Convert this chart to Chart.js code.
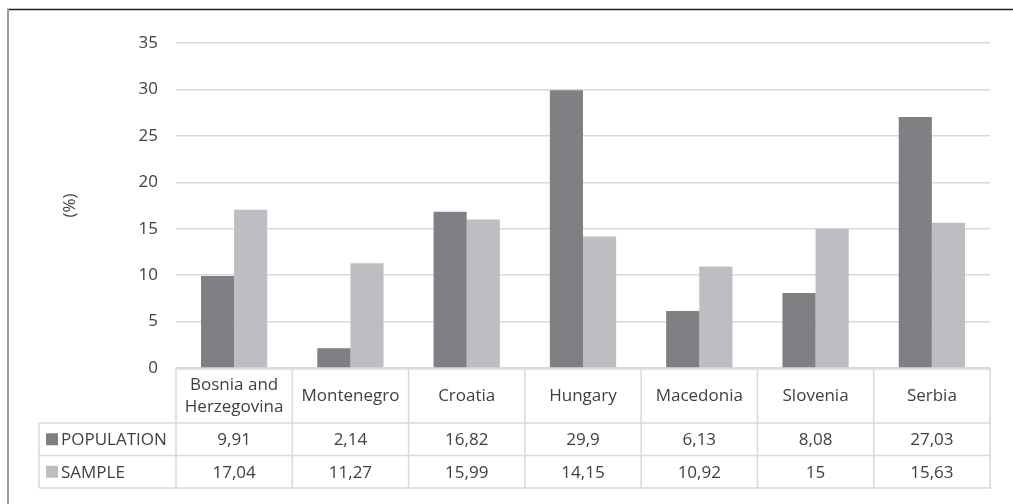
<!DOCTYPE html>
<html>
<head>
<meta charset="utf-8">
<script src="https://cdn.jsdelivr.net/npm/chart.js@4"></script>
<style>
  html, body { margin: 0; padding: 0; background: #ffffff; }
  canvas { display: block; }
</style>
</head>
<body>
<canvas id="chart" width="1013" height="504"></canvas>
<script>
// Share of each country in the population and in the sample (%)
const countries = [['Bosnia and', 'Herzegovina'], 'Montenegro', 'Croatia', 'Hungary', 'Macedonia', 'Slovenia', 'Serbia'];
const population = [9.91, 2.14, 16.82, 29.9, 6.13, 8.08, 27.03];
const sample = [17.04, 11.27, 15.99, 14.15, 10.92, 15, 15.63];
const seriesNames = ['POPULATION', 'SAMPLE'];
const yMin = 0, yMax = 35, yStep = 5;
const axisTitle = '(%)';

const FONT = '"Open Sans", "DejaVu Sans", sans-serif';
const FONT_SIZE = 17;
const TEXT = '#404040';
const GRID = '#d9d9d9';
const COLORS = ['#7f8084', '#bdbec2'];

const fmt = v => String(v).replace('.', ',');

// Data table under the plot: category header row plus one row per series
const dataTable = {
  id: 'dataTable',
  afterDraw(chart) {
    const ctx = chart.ctx;
    const area = chart.chartArea;
    const x = chart.scales.x;
    const n = countries.length;
    const colW = (area.right - area.left) / n;
    const top = area.bottom + 1;
    const headH = 54, rowH = 32.5;
    const labelLeft = 39;
    const rows = [top, top + headH, top + headH + rowH, top + headH + 2 * rowH];

    ctx.save();
    // frame of the figure
    ctx.strokeStyle = '#1e1e1e';
    ctx.lineWidth = 1.5;
    ctx.beginPath(); ctx.moveTo(7, 9.5); ctx.lineTo(1013, 9.5); ctx.stroke();
    ctx.strokeStyle = '#9a9a9a';
    ctx.lineWidth = 2;
    ctx.beginPath(); ctx.moveTo(8, 9); ctx.lineTo(8, 504); ctx.stroke();

    // table grid
    ctx.strokeStyle = GRID;
    ctx.lineWidth = 1.5;
    ctx.beginPath();
    ctx.moveTo(area.left, rows[0]); ctx.lineTo(area.right + 1, rows[0]);
    for (let r = 1; r < rows.length; r++) {
      ctx.moveTo(labelLeft, rows[r]); ctx.lineTo(area.right + 1, rows[r]);
    }
    for (let i = 0; i <= n; i++) {
      const cx = area.left + i * colW;
      ctx.moveTo(cx, rows[0]); ctx.lineTo(cx, rows[3]);
    }
    ctx.moveTo(labelLeft, rows[1]); ctx.lineTo(labelLeft, rows[3]);
    ctx.stroke();

    // header labels
    ctx.fillStyle = TEXT;
    ctx.font = FONT_SIZE + 'px ' + FONT;
    ctx.textAlign = 'center';
    ctx.textBaseline = 'middle';
    countries.forEach((c, i) => {
      const cx = x.getPixelForValue(i);
      const lines = Array.isArray(c) ? c : [c];
      const mid = rows[0] + headH / 2;
      lines.forEach((t, k) => {
        ctx.fillText(t, cx, mid + (k - (lines.length - 1) / 2) * 22);
      });
    });

    // series rows
    [population, sample].forEach((vals, r) => {
      const cy = rows[r + 1] + rowH / 2;
      ctx.fillStyle = COLORS[r];
      ctx.fillRect(46, cy - 6, 12, 12);
      ctx.fillStyle = TEXT;
      ctx.textAlign = 'left';
      ctx.fillText(seriesNames[r], 61, cy + 1);
      ctx.textAlign = 'center';
      vals.forEach((v, i) => ctx.fillText(fmt(v), x.getPixelForValue(i), cy + 1));
    });
    ctx.restore();
  }
};

new Chart(document.getElementById('chart'), {
  type: 'bar',
  data: {
    labels: countries,
    datasets: [
      { label: seriesNames[0], data: population, backgroundColor: COLORS[0] },
      { label: seriesNames[1], data: sample, backgroundColor: COLORS[1] }
    ]
  },
  options: {
    responsive: false,
    animation: false,
    devicePixelRatio: 1,
    layout: { padding: { left: 40, top: 43, right: 23, bottom: 0 } },
    datasets: { bar: { categoryPercentage: 0.57, barPercentage: 1.0 } },
    plugins: { legend: { display: false }, tooltip: { enabled: false } },
    scales: {
      x: {
        grid: { display: false },
        border: { display: false },
        ticks: { display: false },
        afterFit(scale) { scale.height = 136; }
      },
      y: {
        min: yMin, max: yMax,
        ticks: { stepSize: yStep, color: TEXT, font: { family: FONT, size: FONT_SIZE }, padding: 18 },
        grid: { color: GRID, lineWidth: 1.5, drawTicks: false },
        border: { display: false },
        title: { display: true, text: axisTitle, color: TEXT, font: { family: FONT, size: FONT_SIZE }, padding: { top: 20, bottom: 0 } },
        afterFit(scale) { scale.width = 136; }
      }
    }
  },
  plugins: [dataTable]
});
</script>
</body>
</html>
